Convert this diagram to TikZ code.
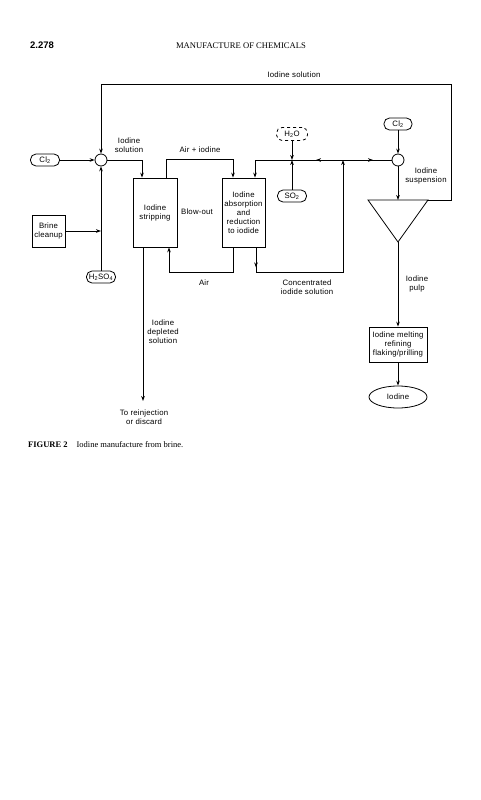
\documentclass[tikz,border=0pt]{standalone}
\usepackage{fontspec}
\setmainfont{Liberation Serif}
\newfontfamily\dsans[LetterSpace=2.5]{Liberation Sans}
\newfontfamily\hsans{Liberation Sans}
\usetikzlibrary{arrows.meta,decorations.markings,shapes.geometric}
\tikzset{
  dfont/.style={font=\dsans\fontsize{7.8}{9}\selectfont},
  lbl/.style={dfont,align=center,inner sep=0pt},
  box/.style={draw,line width=0.8pt,dfont,align=center,inner sep=1pt},
  term/.style={draw,line width=0.8pt,rounded corners=5.5pt,dfont,minimum height=12pt,inner sep=1pt},
  mixer/.style={draw,line width=0.8pt,circle,minimum size=12pt,inner sep=0pt},
  conn/.style={line width=0.8pt},
  arr/.style={conn,-{Stealth[length=5pt,width=3.6pt]}},
  markarr/.style={postaction={decorate},decoration={markings,mark=at position #1 with {\arrow{Stealth[length=5pt,width=3.6pt]}}}}
}
\begin{document}
\begin{tikzpicture}[x=1pt,y=-1pt]
\fill[white] (0,0) rectangle (481,800);
\useasboundingbox (0,0) rectangle (481,800);
% header
\node[font=\hsans\bfseries\fontsize{9.5}{10}\selectfont,inner sep=0pt] (pg) at (42,45) {2.278};
\node[font=\fontsize{8.6}{10}\selectfont,inner sep=0pt] (hd) at (241,46) {MANUFACTURE OF CHEMICALS};
% nodes
\node[term,minimum width=29pt] (cl2a) at (45,160) {Cl\textsubscript{2}};
\node[mixer] (mixa) at (101,160) {};
\node[box,minimum width=33pt,minimum height=32pt] (brine) at (48.5,231) {Brine\\cleanup};
\node[term,minimum width=29pt] (h2so4) at (101,277) {H\textsubscript{2}SO\textsubscript{4}};
\node[box,minimum width=44pt,minimum height=69pt] (strip) at (155,212.5) {Iodine\\stripping};
\node[box,minimum width=43pt,minimum height=69pt] (absorb) at (243.5,212.5) {Iodine\\absorption\\and\\reduction\\to iodide};
\node[term,dashed,minimum width=31pt,minimum height=13pt] (h2o) at (292,134) {H\textsubscript{2}O};
\node[term,minimum width=29pt] (so2) at (292,196) {SO\textsubscript{2}};
\node[term,minimum width=28pt] (cl2b) at (398,124) {Cl\textsubscript{2}};
\node[mixer] (mixb) at (398,160) {};
\coordinate (trl) at (368,200);
\coordinate (trr) at (428,200);
\coordinate (tra) at (398,242);
\draw[conn,line join=miter] (trl) -- (trr) -- (tra) -- cycle;
\node[box,minimum width=58pt,minimum height=35pt] (melt) at (398,344.5) {Iodine melting\\refining\\flaking/prilling};
\node[draw,line width=0.8pt,ellipse,minimum width=58pt,minimum height=22pt,dfont,inner sep=0pt] (iod) at (398,397) {Iodine};
\coordinate (j1) at (343,160);
\coordinate (disc) at (143,401);
% labels
\node[lbl] (t1) at (294,75) {Iodine solution};
\node[lbl] (t2) at (129,145.5) {Iodine\\solution};
\node[lbl] (t3) at (200,150) {Air + iodine};
\node[lbl] (t4) at (197,212) {Blow-out};
\node[lbl] (t5) at (204,283) {Air};
\node[lbl] (t6) at (307,287) {Concentrated\\iodide solution};
\node[lbl] (t7) at (426,176) {Iodine\\suspension};
\node[lbl] (t8) at (417,284) {Iodine\\pulp};
\node[lbl] (t9) at (163,332) {Iodine\\depleted\\solution};
\node[lbl] (t10) at (144,417.5) {To reinjection\\or discard};
% connectors
\draw[arr] (trr) -- (451,200) -- (451,84) -| (mixa.north);
\draw[arr] (cl2a) -- (mixa);
\draw[arr] (h2so4) -- (mixa);
\draw[arr] (brine.east) -- (brine.east -| mixa);
\draw[arr] (mixa.east) -| ([xshift=-13pt]strip.north);
\draw[arr] ([xshift=11pt]strip.north) -- ++(0,-18) -| ([xshift=-10.5pt]absorb.north);
\draw[arr] ([xshift=-10.5pt]absorb.south) -- ++(0,25) -| ([xshift=14pt]strip.south);
\draw[arr,markarr=20pt] ([xshift=12.5pt]absorb.south) -- ++(0,25) -| (j1);
\draw[conn,markarr=30pt] (j1) -- (mixb.west);
\draw[arr,markarr=27pt] (j1) -| ([xshift=11.5pt]absorb.north);
\draw[arr] (h2o) -- (h2o |- j1);
\draw[arr] (so2) -- (so2 |- j1);
\draw[arr] (cl2b) -- (mixb);
\draw[arr] (mixb) -- (mixb |- trl);
\draw[arr] (tra) -- (melt);
\draw[arr] (melt) -- (iod);
\draw[arr] ([xshift=-12pt]strip.south) -- (disc);
% caption
\node[anchor=base west,inner sep=0pt,font=\fontsize{8.5}{10}\selectfont] (cap) at (28,447) {\textbf{FIGURE 2}\hspace{9pt}Iodine manufacture from brine.};
\end{tikzpicture}
\end{document}
